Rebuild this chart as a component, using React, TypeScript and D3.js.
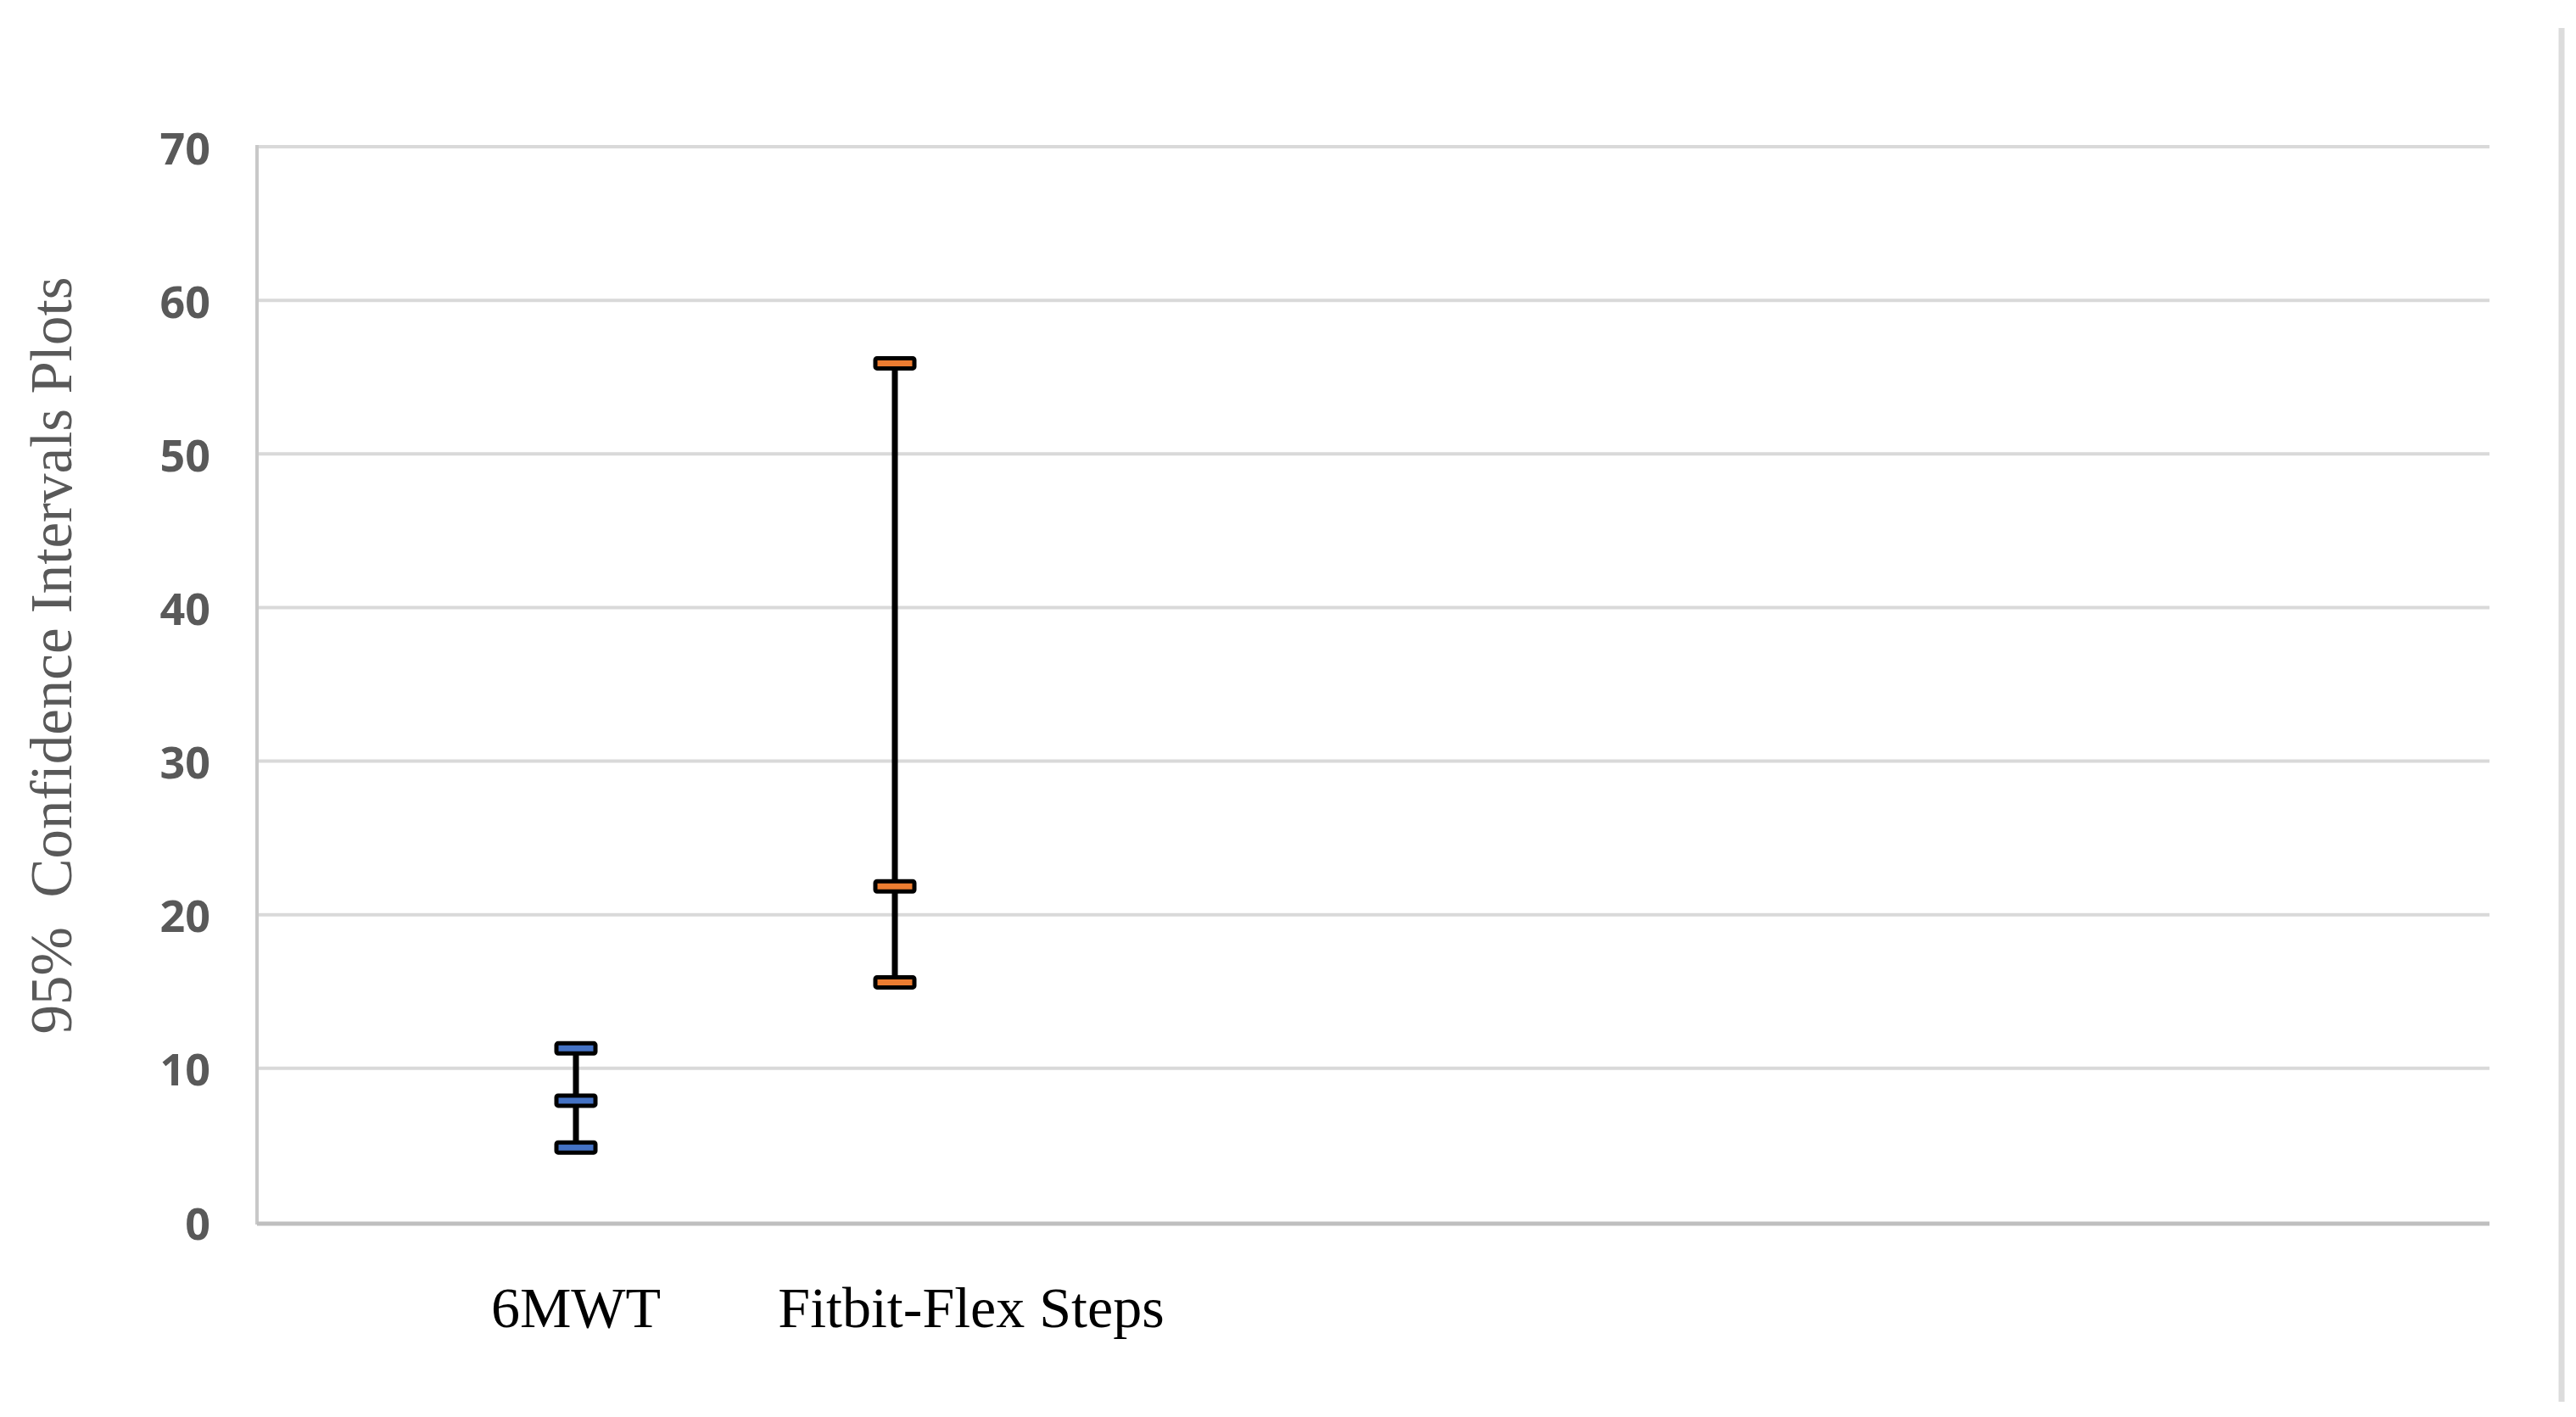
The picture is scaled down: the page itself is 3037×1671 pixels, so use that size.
import { useRef, useEffect } from "react";
import { select, scaleLinear } from "d3";

const W = 3037;
const H = 1671;
const margin = { top: 173, right: 102, bottom: 230, left: 303 };

const categories = ["6MWT", "Fitbit-Flex Steps"];
const lowerCI = [4.85, 15.6];
const meanVal = [7.9, 21.85];
const upperCI = [11.3, 55.9];
const seriesColors = ["#4472c4", "#ed7d31"];
const yTicks = [0, 10, 20, 30, 40, 50, 60, 70];
const labelShift = [0, 90];

function App() {
  const svgRef = useRef<SVGSVGElement>(null);

  useEffect(() => {
    const svg = select(svgRef.current);
    svg.selectAll("*").remove();

    const x = scaleLinear().domain([0, 7]).range([margin.left, W - margin.right]);
    const y = scaleLinear().domain([0, 70]).range([H - margin.bottom, margin.top]);

    // gridlines
    svg.append("g")
      .selectAll("line")
      .data(yTicks.slice(1))
      .join("line")
      .attr("x1", x(0))
      .attr("x2", x(7))
      .attr("y1", (d) => y(d))
      .attr("y2", (d) => y(d))
      .attr("stroke", "#d9d9d9")
      .attr("stroke-width", 4);

    // axes
    svg.append("line")
      .attr("x1", x(0)).attr("x2", x(0))
      .attr("y1", y(70) - 2).attr("y2", y(0) + 3)
      .attr("stroke", "#c8c8c8").attr("stroke-width", 4);
    svg.append("line")
      .attr("x1", x(0)).attr("x2", x(7))
      .attr("y1", y(0) + 2).attr("y2", y(0) + 2)
      .attr("stroke", "#bfbfbf").attr("stroke-width", 5);

    // right border line
    svg.append("line")
      .attr("x1", 3020).attr("x2", 3020)
      .attr("y1", 33).attr("y2", 1653)
      .attr("stroke", "#dcdcdc").attr("stroke-width", 7);

    // tick labels
    svg.append("g")
      .selectAll("text")
      .data(yTicks)
      .join("text")
      .attr("x", 248)
      .attr("y", (d) => y(d))
      .attr("text-anchor", "end")
      .attr("dominant-baseline", "central")
      .style("font-family", "'Open Sans', sans-serif")
      .style("font-weight", "bold")
      .style("font-size", "52px")
      .attr("fill", "#595959")
      .text((d) => d);

    // y title
    svg.append("text")
      .attr("transform", `translate(84, 773) rotate(-90)`)
      .attr("text-anchor", "middle")
      .style("font-family", "'Liberation Serif', 'Times New Roman', serif")
      .style("font-size", "69px")
      .style("white-space", "pre")
      .attr("fill", "#595959")
      .text("95%  Confidence Intervals Plots");

    // category labels
    svg.append("g")
      .selectAll("text")
      .data(categories)
      .join("text")
      .attr("x", (_, i) => x(i + 1) + labelShift[i])
      .attr("y", 1565)
      .attr("text-anchor", "middle")
      .style("font-family", "'Liberation Serif', 'Times New Roman', serif")
      .style("font-size", "68px")
      .attr("fill", "#000")
      .text((d) => d);

    // error bars
    const bars = svg.append("g")
      .selectAll("g")
      .data(categories.map((c, i) => ({ c, i, lo: lowerCI[i], m: meanVal[i], hi: upperCI[i] })))
      .join("g");

    bars.append("line")
      .attr("x1", (d) => x(d.i + 1))
      .attr("x2", (d) => x(d.i + 1))
      .attr("y1", (d) => y(d.lo))
      .attr("y2", (d) => y(d.hi))
      .attr("stroke", "#000")
      .attr("stroke-width", 7);

    bars.each(function (d) {
      select(this)
        .selectAll("rect")
        .data([d.lo, d.m, d.hi])
        .join("rect")
        .attr("x", x(d.i + 1) - 23)
        .attr("y", (v) => y(v) - 6)
        .attr("width", 46)
        .attr("height", 12)
        .attr("rx", 2)
        .attr("fill", seriesColors[d.i])
        .attr("stroke", "#000")
        .attr("stroke-width", 5);
    });
  }, []);

  return (
    <svg
      ref={svgRef}
      width={W}
      height={H}
      style={{ position: "absolute", left: 0, top: 0, background: "#fff", display: "block" }}
    />
  );
}

export default App;
